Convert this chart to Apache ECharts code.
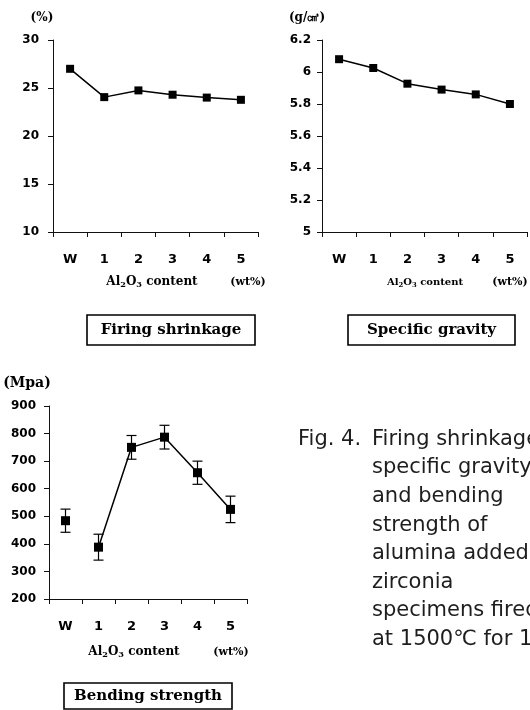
<!DOCTYPE html>
<html>
<head>
<meta charset="utf-8">
<script src="https://cdn.jsdelivr.net/npm/echarts@6/dist/echarts.min.js"></script>
<style>
  html, body { margin: 0; padding: 0; background: #fff; }
  #chart { width: 530px; height: 710px; }
</style>
</head>
<body>
<div id="chart"></div>
<script>
  // x axis: Al2O3 content (wt%)
  var categories = ['W', '1', '2', '3', '4', '5'];
  // firing shrinkage (%)
  var shrinkage = [27.0, 24.05, 24.75, 24.3, 24.0, 23.77];
  // specific gravity (g/cm3)
  var gravity = [6.08, 6.025, 5.927, 5.89, 5.86, 5.80];
  // bending strength (MPa) and its error
  var bending = [484, 388, 750, 787, 658, 525];
  var bendingErr = [42, 47, 43, 43, 42, 48];

  var tickFont = 'DejaVu Sans';
  var serif = 'DejaVu Serif';
  var captionFont = '21px "DejaVu Sans"';

  function xAxis(gridIndex) {
    return {
      type: 'category',
      gridIndex: gridIndex,
      data: categories,
      boundaryGap: true,
      axisLine: {lineStyle: {color: '#111', width: 1}},
      axisTick: {show: true, length: 5, lineStyle: {color: '#111'}},
      axisLabel: {margin: 21, color: '#000', fontFamily: tickFont, fontWeight: 'bold', fontSize: 13},
      splitLine: {show: false}
    };
  }

  function yAxis(gridIndex, min, max, interval, margin) {
    return {
      type: 'value',
      gridIndex: gridIndex,
      min: min,
      max: max,
      interval: interval,
      axisLine: {show: true, lineStyle: {color: '#111', width: 1}},
      axisTick: {show: true, length: 5, lineStyle: {color: '#111'}},
      axisLabel: {margin: margin, color: '#000', fontFamily: tickFont, fontWeight: 'bold', fontSize: 12},
      splitLine: {show: false}
    };
  }

  function lineSeries(idx, data, size) {
    return {
      type: 'line',
      xAxisIndex: idx,
      yAxisIndex: idx,
      data: data,
      symbol: 'rect',
      symbolSize: size,
      connectNulls: false,
      itemStyle: {color: '#000', opacity: 1},
      lineStyle: {color: '#000', width: 1.5},
      z: 3
    };
  }

  // label text with Al2O3 subscripts
  function contentLabel(x, y, size) {
    return {
      type: 'text', x: x, y: y,
      style: {
        text: '{a|Al}{s|2}{a|O}{s|3}{a| content}',
        align: 'center', verticalAlign: 'middle',
        rich: {
          a: {fontFamily: serif, fontWeight: 'bold', fontSize: size, fill: '#000'},
          s: {fontFamily: serif, fontWeight: 'bold', fontSize: size * 0.68, fill: '#000', padding: [size * 0.55, 0, 0, 0]}
        }
      }
    };
  }

  function serifText(txt, x, y, size) {
    return {
      type: 'text', x: x, y: y,
      style: {
        text: txt, fill: '#000',
        font: 'bold ' + size + 'px "' + serif + '"',
        align: 'center', verticalAlign: 'middle'
      }
    };
  }

  function boxLabel(txt, x1, y1, x2, y2) {
    return [
      {type: 'rect', shape: {x: x1, y: y1, width: x2 - x1, height: y2 - y1},
        style: {fill: 'none', stroke: '#000', lineWidth: 1.6}},
      serifText(txt, (x1 + x2) / 2, (y1 + y2) / 2, 15)
    ];
  }

  var captionLines = [
    'Firing shrinkage,',
    'specific gravity,',
    'and bending',
    'strength of',
    'alumina added',
    'zirconia',
    'specimens fired',
    'at 1500℃ for 1h.'
  ];

  var graphics = [
    serifText('(%)', 42, 18, 12),
    serifText('(g/㎤)', 307, 18, 12),
    serifText('(Mpa)', 27, 383, 14),
    contentLabel(152, 282, 12),
    contentLabel(425, 282, 10),
    contentLabel(134, 652, 12),
    serifText('(wt%)', 248, 282, 11),
    serifText('(wt%)', 510, 282, 11),
    serifText('(wt%)', 231, 652, 11),
    {
      type: 'text', x: 298, y: 425,
      style: {text: 'Fig. 4.', font: captionFont, fill: '#1e1e1e',
        align: 'left', verticalAlign: 'top', lineHeight: 28.6}
    },
    {
      type: 'text', x: 372, y: 425,
      style: {text: captionLines.join('\n'), font: captionFont, fill: '#1e1e1e',
        align: 'left', verticalAlign: 'top', lineHeight: 28.6}
    }
  ].concat(
    boxLabel('Firing shrinkage', 87, 315, 255, 345),
    boxLabel('Specific gravity', 348, 315, 515, 345),
    boxLabel('Bending strength', 64, 683, 232, 709)
  );

  var chart = echarts.init(document.getElementById('chart'));
  chart.setOption({
    animation: false,
    backgroundColor: '#fff',
    grid: [
      {left: 53, top: 40, width: 205, height: 192},
      {left: 322, top: 40, width: 205, height: 192},
      {left: 49, top: 406, width: 198, height: 193}
    ],
    xAxis: [xAxis(0), xAxis(1), xAxis(2)],
    yAxis: [
      yAxis(0, 10, 30, 5, 14),
      yAxis(1, 5, 6.2, 0.2, 11),
      yAxis(2, 200, 900, 100, 13)
    ],
    graphic: graphics,
    series: [
      lineSeries(0, shrinkage, 8),
      lineSeries(1, gravity, 8),
      // W is not joined to the other points
      lineSeries(2, bending.map(function (v, i) { return i === 0 ? '-' : v; }), 9),
      {
        type: 'scatter', xAxisIndex: 2, yAxisIndex: 2,
        symbol: 'rect', symbolSize: 9, itemStyle: {color: '#000', opacity: 1},
        data: bending.map(function (v, i) { return i === 0 ? v : '-'; }),
        z: 3
      },
      {
        type: 'custom', xAxisIndex: 2, yAxisIndex: 2,
        data: bending.map(function (v, i) { return [i, v + bendingErr[i], v - bendingErr[i]]; }),
        encode: {x: 0, y: [1, 2]},
        renderItem: function (params, api) {
          var hi = api.coord([api.value(0), api.value(1)]);
          var lo = api.coord([api.value(0), api.value(2)]);
          var w = 5;
          var st = {stroke: '#000', lineWidth: 1.2};
          return {
            type: 'group',
            children: [
              {type: 'line', shape: {x1: hi[0], y1: hi[1], x2: lo[0], y2: lo[1]}, style: st},
              {type: 'line', shape: {x1: hi[0] - w, y1: hi[1], x2: hi[0] + w, y2: hi[1]}, style: st},
              {type: 'line', shape: {x1: lo[0] - w, y1: lo[1], x2: lo[0] + w, y2: lo[1]}, style: st}
            ]
          };
        },
        z: 2
      }
    ]
  });
</script>
</body>
</html>
